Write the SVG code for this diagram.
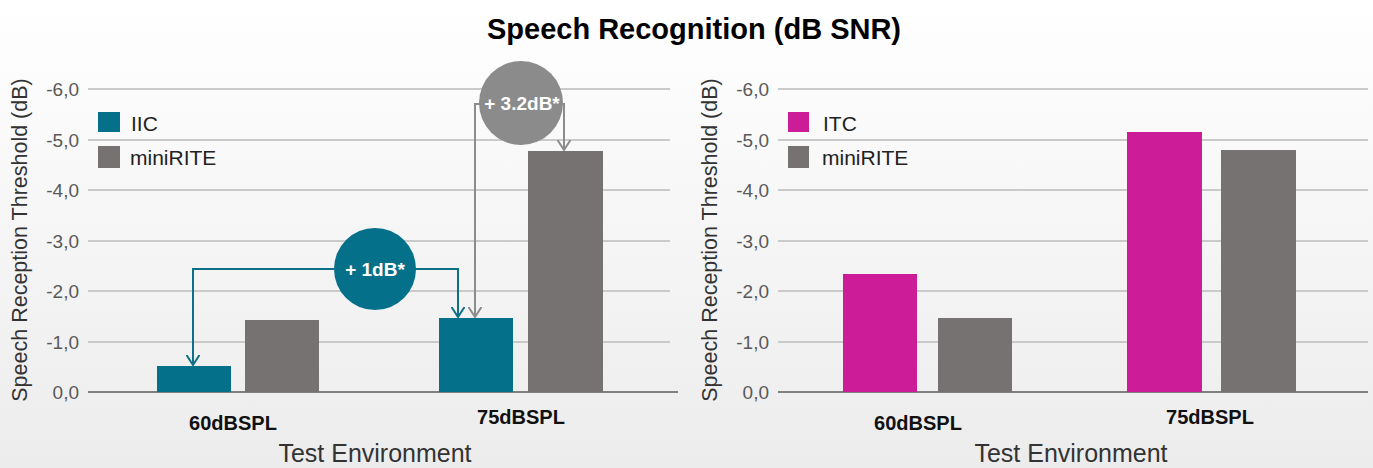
<svg xmlns="http://www.w3.org/2000/svg" width="1373" height="468" viewBox="0 0 1373 468">
<defs>
<linearGradient id="bg" x1="0" y1="0" x2="0" y2="1">
<stop offset="0" stop-color="#ffffff"/>
<stop offset="1" stop-color="#ececed"/>
</linearGradient>
<marker id="aT" viewBox="0 0 11 14" refX="10" refY="7" markerWidth="11" markerHeight="14" markerUnits="userSpaceOnUse" orient="auto">
<path d="M0,0.5 L10,7 L0,13.5" fill="none" stroke="#0d7087" stroke-width="2"/>
</marker>
<marker id="aG" viewBox="0 0 11 14" refX="10" refY="7" markerWidth="11" markerHeight="14" markerUnits="userSpaceOnUse" orient="auto">
<path d="M0,0.5 L10,7 L0,13.5" fill="none" stroke="#8c8c8c" stroke-width="2"/>
</marker>
</defs>
<style>
.grid{stroke:#cacaca;stroke-width:2}
.axis{stroke:#7f7f7f;stroke-width:2}
.tick{font-family:"Liberation Sans",Arial,sans-serif;font-size:19px;fill:#595959;text-anchor:end}
.ytitle{font-family:"Liberation Sans",Arial,sans-serif;font-size:21.5px;fill:#333333;text-anchor:middle}
.cat{font-family:"Liberation Sans",Arial,sans-serif;font-size:20px;font-weight:bold;fill:#111111;text-anchor:middle}
.xtitle{font-family:"Liberation Sans",Arial,sans-serif;font-size:25px;fill:#333333;text-anchor:middle}
.leg{font-family:"Liberation Sans",Arial,sans-serif;font-size:21px;fill:#222222}
.teal{fill:#04708a}
.gray{fill:#767271}
.mag{fill:#cc1c98}
.badge{font-family:"Liberation Sans",Arial,sans-serif;font-size:19px;font-weight:bold;fill:#ffffff;text-anchor:middle}
</style>
<rect x="0" y="0" width="1373" height="468" fill="url(#bg)"/>
<text x="694" y="39" font-family="Liberation Sans, Arial, sans-serif" font-size="29" font-weight="bold" fill="#000" text-anchor="middle">Speech Recognition (dB SNR)</text>

<g id="left-chart">
<g id="left-grid">
<line class="grid" x1="88" y1="89" x2="670" y2="89"/>
<line class="grid" x1="88" y1="140" x2="670" y2="140"/>
<line class="grid" x1="88" y1="190" x2="670" y2="190"/>
<line class="grid" x1="88" y1="241" x2="670" y2="241"/>
<line class="grid" x1="88" y1="291" x2="670" y2="291"/>
<line class="grid" x1="88" y1="342" x2="670" y2="342"/>
<line class="axis" x1="88" y1="392" x2="678" y2="392"/>
<text class="tick" x="79" y="96">-6,0</text>
<text class="tick" x="79" y="147">-5,0</text>
<text class="tick" x="79" y="197">-4,0</text>
<text class="tick" x="79" y="248">-3,0</text>
<text class="tick" x="79" y="298">-2,0</text>
<text class="tick" x="79" y="349">-1,0</text>
<text class="tick" x="79" y="399">0,0</text>
<text class="ytitle" transform="translate(27,240) rotate(-90)">Speech Reception Threshold (dB)</text>
<text class="cat" x="233" y="430">60dBSPL</text>
<text class="cat" x="521" y="424">75dBSPL</text>
<text class="xtitle" x="375" y="462">Test Environment</text>
</g>
<g id="left-bars">
<rect class="teal" x="157" y="366" width="74" height="26"/>
<rect class="gray" x="245" y="320" width="74" height="72"/>
<rect class="teal" x="439" y="318" width="74" height="74"/>
<rect class="gray" x="528" y="151" width="75" height="241"/>
</g>
<g id="left-legend">
<rect class="teal" x="98" y="112" width="22" height="20"/>
<text class="leg" x="131" y="131">IIC</text>
<rect class="gray" x="98" y="146" width="22" height="22"/>
<text class="leg" x="130" y="165">miniRITE</text>
</g>
</g>

<g id="connectors">
<polyline points="340,269 193,269 193,365" fill="none" stroke="#0d7087" stroke-width="2" marker-end="url(#aT)"/>
<polyline points="410,269 458,269 458,317" fill="none" stroke="#0d7087" stroke-width="2" marker-end="url(#aT)"/>
<polyline points="485,104 475,104 475,317" fill="none" stroke="#8c8c8c" stroke-width="2" marker-end="url(#aG)"/>
<polyline points="558,104 564,104 564,150" fill="none" stroke="#8c8c8c" stroke-width="2" marker-end="url(#aG)"/>
</g>

<g id="badge-1db">
<circle cx="375" cy="269" r="41" fill="#04708a"/>
<text class="badge" x="375" y="276">+ 1dB*</text>
</g>
<g id="badge-32db">
<circle cx="521" cy="103" r="42" fill="#8b8b8b"/>
<text class="badge" x="522" y="110">+ 3.2dB*</text>
</g>

<g id="right-chart">
<g id="right-grid">
<line class="grid" x1="778" y1="89" x2="1368" y2="89"/>
<line class="grid" x1="778" y1="140" x2="1368" y2="140"/>
<line class="grid" x1="778" y1="190" x2="1368" y2="190"/>
<line class="grid" x1="778" y1="241" x2="1368" y2="241"/>
<line class="grid" x1="778" y1="291" x2="1368" y2="291"/>
<line class="grid" x1="778" y1="342" x2="1368" y2="342"/>
<line class="axis" x1="778" y1="392" x2="1368" y2="392"/>
<text class="tick" x="769" y="96">-6,0</text>
<text class="tick" x="769" y="147">-5,0</text>
<text class="tick" x="769" y="197">-4,0</text>
<text class="tick" x="769" y="248">-3,0</text>
<text class="tick" x="769" y="298">-2,0</text>
<text class="tick" x="769" y="349">-1,0</text>
<text class="tick" x="769" y="399">0,0</text>
<text class="ytitle" transform="translate(717,240) rotate(-90)">Speech Reception Threshold (dB)</text>
<text class="cat" x="918" y="430">60dBSPL</text>
<text class="cat" x="1210" y="424">75dBSPL</text>
<text class="xtitle" x="1071" y="462">Test Environment</text>
</g>
<g id="right-bars">
<rect class="mag" x="843" y="274" width="74" height="118"/>
<rect class="gray" x="938" y="318" width="74" height="74"/>
<rect class="mag" x="1127" y="132" width="75" height="260"/>
<rect class="gray" x="1221" y="150" width="75" height="242"/>
</g>
<g id="right-legend">
<rect class="mag" x="788" y="112" width="21" height="20"/>
<text class="leg" x="823" y="131">ITC</text>
<rect class="gray" x="788" y="146" width="21" height="22"/>
<text class="leg" x="822" y="165">miniRITE</text>
</g>
</g>
</svg>
